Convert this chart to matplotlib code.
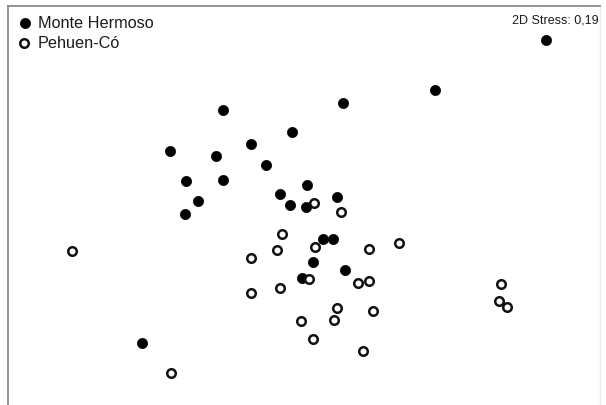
import matplotlib
matplotlib.use("Agg")
import matplotlib.pyplot as plt

plt.rcParams['font.family'] = ['Liberation Sans', 'DejaVu Sans']

# MDS ordination coordinates (arbitrary units; y grows downward)
mh_x = [546, 435, 343, 223, 292, 251, 170, 216, 266, 186, 223, 307, 280, 198, 337, 290, 306, 185, 323, 333, 313, 345, 302, 142]
mh_y = [40, 90, 103, 110, 132, 144, 151, 156, 165, 181, 180, 185, 194, 201, 197, 205, 207, 214, 239, 239, 262, 270, 278, 343]

pc_x = [72, 171, 501, 499, 507, 314, 341, 282, 277, 251, 315, 369, 399, 309, 358, 369, 251, 280, 337, 373, 301, 334, 313, 363]
pc_y = [251, 373, 284, 301, 307, 203, 212, 234, 250, 258, 247, 249, 243, 279, 283, 281, 293, 288, 308, 311, 321, 320, 339, 351]

labels = ["Monte Hermoso", "Pehuen-Có"]
stress_text = "2D Stress: 0,19"

W, H = 606, 405
fig = plt.figure(figsize=(W / 100, H / 100), dpi=100)
ax = fig.add_axes([8 / W, 0, (600 - 8) / W, (H - 6) / H])
ax.set_xlim(8, 600)
ax.set_ylim(405, 6)
ax.set_xticks([])
ax.set_yticks([])
for side in ['left', 'top']:
    ax.spines[side].set_color('#8a8a8a')
    ax.spines[side].set_linewidth(1.3)
ax.spines['right'].set_color('#eeeeee')
ax.spines['right'].set_linewidth(1.0)
ax.spines['bottom'].set_visible(False)

ax.scatter(mh_x, mh_y, s=54, c='black', edgecolors='black', linewidths=0.5, zorder=3)
ax.scatter(pc_x, pc_y, s=38, facecolors='white', edgecolors='#111111', linewidths=1.8, zorder=3)

# legend
ax.scatter([25], [23], s=54, c='black', linewidths=0.5, clip_on=False, zorder=4)
ax.scatter([24], [43], s=38, facecolors='white', edgecolors='#111111', linewidths=1.8, clip_on=False, zorder=4)
ax.text(37.5, 23.5, labels[0], fontsize=11.7, color='#1a1a1a', va='center', ha='left')
ax.text(37.5, 43.5, labels[1], fontsize=11.7, color='#1a1a1a', va='center', ha='left')

ax.text(599, 20.5, stress_text, fontsize=9, color='#1a1a1a', va='center', ha='right')

fig.savefig("out.png", dpi=100)
